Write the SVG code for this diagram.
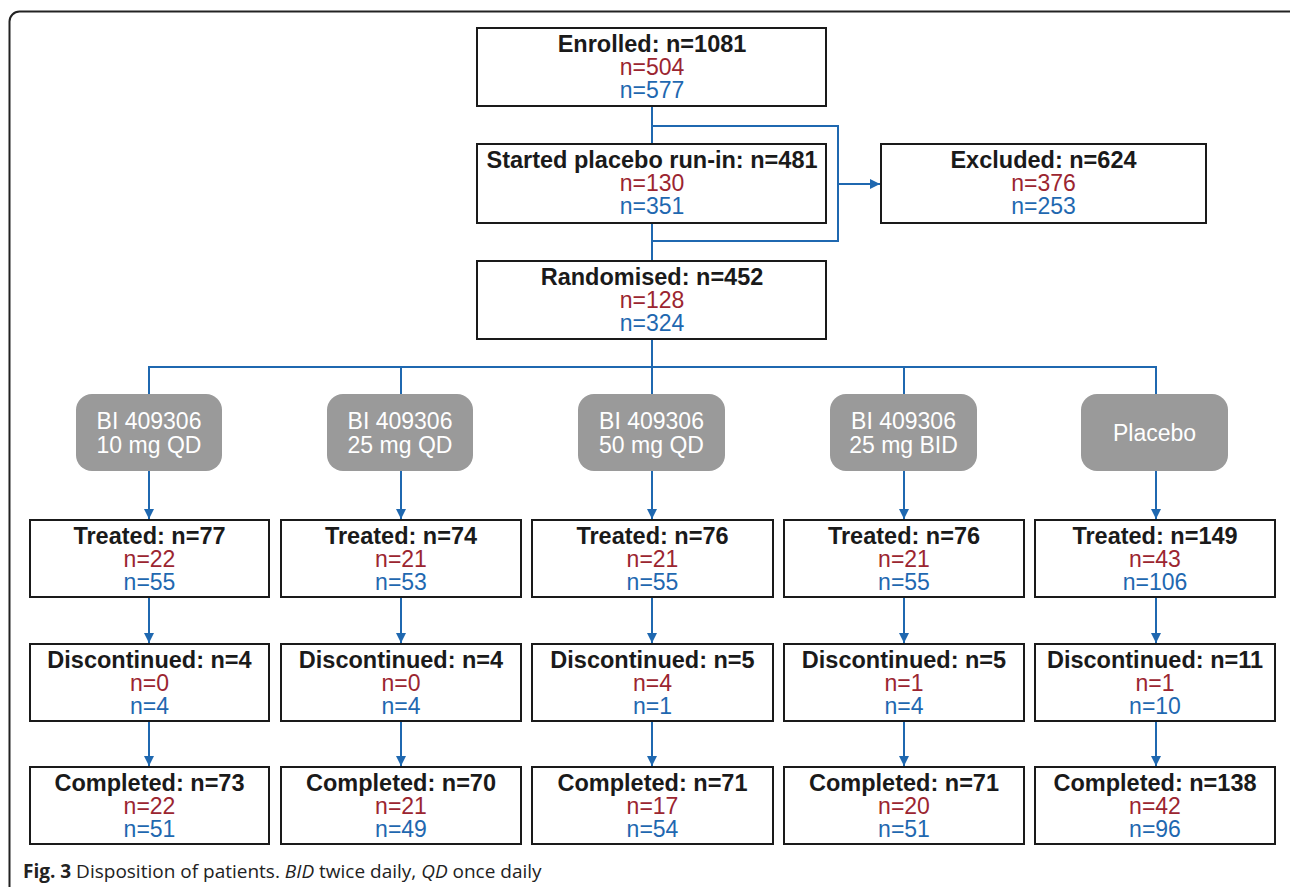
<svg xmlns="http://www.w3.org/2000/svg" width="1290" height="887" viewBox="0 0 1290 887">
<style>
.box{fill:#fff;stroke:#1a1a1a;stroke-width:2}
.pill{fill:#9a9a9a;stroke:none}
.h{font-weight:bold;font-size:23.5px;fill:#1a1a1a;text-anchor:middle}
.r{font-size:23px;fill:#9b2530;text-anchor:middle}
.b{font-size:23px;fill:#1f68b0;text-anchor:middle}
.w{font-size:23px;fill:#fff;text-anchor:middle}
.c{fill:none;stroke:#1f68b0;stroke-width:2}
.cap{font-size:19px;fill:#222}
</style>
<defs>
<marker id="ahs" viewBox="0 0 10 10" refX="10" refY="5" markerWidth="5" markerHeight="6" orient="auto" markerUnits="strokeWidth">
<path d="M0,0 L10,5 L0,10 z" fill="#1f68b0"/>
</marker>
</defs>
<rect id="frame" x="9.5" y="11.5" width="1300" height="900" rx="10" fill="none" stroke="#222" stroke-width="2"/>

<g id="connectors">
<line class="c" x1="652" y1="106" x2="652" y2="144"/>
<polyline class="c" points="652,126 838,126 838,241 652,241"/>
<line class="c" x1="838" y1="184" x2="880" y2="184" marker-end="url(#ahs)"/>
<line class="c" x1="652" y1="223" x2="652" y2="261"/>
<line class="c" x1="652" y1="339" x2="652" y2="367"/>
<polyline class="c" points="149,394 149,367 1156,367 1156,394"/>
<line class="c" x1="401" y1="367" x2="401" y2="394"/>
<line class="c" x1="652" y1="367" x2="652" y2="394"/>
<line class="c" x1="904" y1="367" x2="904" y2="394"/>
<line class="c" x1="149" y1="471" x2="149" y2="519" marker-end="url(#ahs)"/>
<line class="c" x1="401" y1="471" x2="401" y2="519" marker-end="url(#ahs)"/>
<line class="c" x1="652" y1="471" x2="652" y2="519" marker-end="url(#ahs)"/>
<line class="c" x1="904" y1="471" x2="904" y2="519" marker-end="url(#ahs)"/>
<line class="c" x1="1156" y1="471" x2="1156" y2="519" marker-end="url(#ahs)"/>
<line class="c" x1="149" y1="597" x2="149" y2="643" marker-end="url(#ahs)"/>
<line class="c" x1="401" y1="597" x2="401" y2="643" marker-end="url(#ahs)"/>
<line class="c" x1="652" y1="597" x2="652" y2="643" marker-end="url(#ahs)"/>
<line class="c" x1="904" y1="597" x2="904" y2="643" marker-end="url(#ahs)"/>
<line class="c" x1="1156" y1="597" x2="1156" y2="643" marker-end="url(#ahs)"/>
<line class="c" x1="149" y1="721" x2="149" y2="766" marker-end="url(#ahs)"/>
<line class="c" x1="401" y1="721" x2="401" y2="766" marker-end="url(#ahs)"/>
<line class="c" x1="652" y1="721" x2="652" y2="766" marker-end="url(#ahs)"/>
<line class="c" x1="904" y1="721" x2="904" y2="766" marker-end="url(#ahs)"/>
<line class="c" x1="1156" y1="721" x2="1156" y2="766" marker-end="url(#ahs)"/>
</g>

<g font-family="'Liberation Sans', Arial, sans-serif">
<g id="enrolled"><rect class="box" x="477" y="28" width="349" height="78"/>
<text class="h" x="652" y="52">Enrolled: n=1081</text><text class="r" x="652" y="75">n=504</text><text class="b" x="652" y="98">n=577</text></g>
<g id="runin"><rect class="box" x="477" y="144" width="349" height="79"/>
<text class="h" x="652" y="168">Started placebo run-in: n=481</text><text class="r" x="652" y="191">n=130</text><text class="b" x="652" y="214">n=351</text></g>
<g id="excluded"><rect class="box" x="881" y="144" width="325" height="79"/>
<text class="h" x="1043.5" y="168">Excluded: n=624</text><text class="r" x="1043.5" y="191">n=376</text><text class="b" x="1043.5" y="214">n=253</text></g>
<g id="randomised"><rect class="box" x="477" y="261" width="349" height="78"/>
<text class="h" x="652" y="285">Randomised: n=452</text><text class="r" x="652" y="308">n=128</text><text class="b" x="652" y="331">n=324</text></g>

<g id="arm1"><rect class="pill" x="76" y="394" width="146" height="77" rx="16"/>
<text class="w" x="149" y="429">BI 409306</text><text class="w" x="149" y="453">10 mg QD</text></g>
<g id="arm2"><rect class="pill" x="327" y="394" width="146" height="77" rx="16"/>
<text class="w" x="400" y="429">BI 409306</text><text class="w" x="400" y="453">25 mg QD</text></g>
<g id="arm3"><rect class="pill" x="578" y="394" width="147" height="77" rx="16"/>
<text class="w" x="651.5" y="429">BI 409306</text><text class="w" x="651.5" y="453">50 mg QD</text></g>
<g id="arm4"><rect class="pill" x="830" y="394" width="147" height="77" rx="16"/>
<text class="w" x="903.5" y="429">BI 409306</text><text class="w" x="903.5" y="453">25 mg BID</text></g>
<g id="arm5"><rect class="pill" x="1081" y="394" width="147" height="77" rx="16"/>
<text class="w" x="1154.5" y="441">Placebo</text></g>

<g id="treated1"><rect class="box" x="30" y="520" width="239" height="77"/>
<text class="h" x="149.5" y="544">Treated: n=77</text><text class="r" x="149.5" y="567">n=22</text><text class="b" x="149.5" y="590">n=55</text></g>
<g id="treated2"><rect class="box" x="281" y="520" width="240" height="77"/>
<text class="h" x="401" y="544">Treated: n=74</text><text class="r" x="401" y="567">n=21</text><text class="b" x="401" y="590">n=53</text></g>
<g id="treated3"><rect class="box" x="532" y="520" width="241" height="77"/>
<text class="h" x="652.5" y="544">Treated: n=76</text><text class="r" x="652.5" y="567">n=21</text><text class="b" x="652.5" y="590">n=55</text></g>
<g id="treated4"><rect class="box" x="784" y="520" width="240" height="77"/>
<text class="h" x="904" y="544">Treated: n=76</text><text class="r" x="904" y="567">n=21</text><text class="b" x="904" y="590">n=55</text></g>
<g id="treated5"><rect class="box" x="1035" y="520" width="240" height="77"/>
<text class="h" x="1155" y="544">Treated: n=149</text><text class="r" x="1155" y="567">n=43</text><text class="b" x="1155" y="590">n=106</text></g>

<g id="disc1"><rect class="box" x="30" y="644" width="239" height="77"/>
<text class="h" x="149.5" y="668">Discontinued: n=4</text><text class="r" x="149.5" y="691">n=0</text><text class="b" x="149.5" y="714">n=4</text></g>
<g id="disc2"><rect class="box" x="281" y="644" width="240" height="77"/>
<text class="h" x="401" y="668">Discontinued: n=4</text><text class="r" x="401" y="691">n=0</text><text class="b" x="401" y="714">n=4</text></g>
<g id="disc3"><rect class="box" x="532" y="644" width="241" height="77"/>
<text class="h" x="652.5" y="668">Discontinued: n=5</text><text class="r" x="652.5" y="691">n=4</text><text class="b" x="652.5" y="714">n=1</text></g>
<g id="disc4"><rect class="box" x="784" y="644" width="240" height="77"/>
<text class="h" x="904" y="668">Discontinued: n=5</text><text class="r" x="904" y="691">n=1</text><text class="b" x="904" y="714">n=4</text></g>
<g id="disc5"><rect class="box" x="1035" y="644" width="240" height="77"/>
<text class="h" x="1155" y="668">Discontinued: n=11</text><text class="r" x="1155" y="691">n=1</text><text class="b" x="1155" y="714">n=10</text></g>

<g id="comp1"><rect class="box" x="30" y="767" width="239" height="77"/>
<text class="h" x="149.5" y="791">Completed: n=73</text><text class="r" x="149.5" y="814">n=22</text><text class="b" x="149.5" y="837">n=51</text></g>
<g id="comp2"><rect class="box" x="281" y="767" width="240" height="77"/>
<text class="h" x="401" y="791">Completed: n=70</text><text class="r" x="401" y="814">n=21</text><text class="b" x="401" y="837">n=49</text></g>
<g id="comp3"><rect class="box" x="532" y="767" width="241" height="77"/>
<text class="h" x="652.5" y="791">Completed: n=71</text><text class="r" x="652.5" y="814">n=17</text><text class="b" x="652.5" y="837">n=54</text></g>
<g id="comp4"><rect class="box" x="784" y="767" width="240" height="77"/>
<text class="h" x="904" y="791">Completed: n=71</text><text class="r" x="904" y="814">n=20</text><text class="b" x="904" y="837">n=51</text></g>
<g id="comp5"><rect class="box" x="1035" y="767" width="240" height="77"/>
<text class="h" x="1155" y="791">Completed: n=138</text><text class="r" x="1155" y="814">n=42</text><text class="b" x="1155" y="837">n=96</text></g>
</g>

<text class="cap" x="23" y="878" font-family="'Open Sans', 'DejaVu Sans', sans-serif"><tspan font-weight="bold">Fig. 3</tspan> Disposition of patients. <tspan font-style="italic">BID</tspan> twice daily, <tspan font-style="italic">QD</tspan> once daily</text>
</svg>
